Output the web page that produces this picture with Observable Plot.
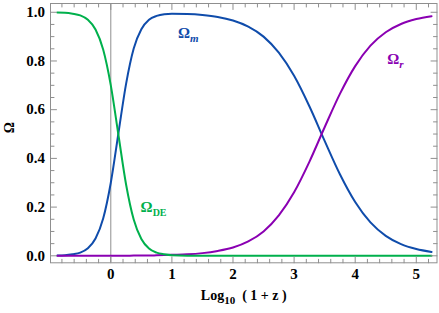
<!DOCTYPE html>
<html><head><meta charset="utf-8">
<script src="https://cdn.jsdelivr.net/npm/d3@7"></script>
<script src="https://cdn.jsdelivr.net/npm/@observablehq/plot@0.6"></script>
<style>body{margin:0;background:#fff} svg text{font-family:"Liberation Serif",serif;}</style>
</head><body><div id="chart"></div>
<script>
// log10(1+z) sample positions
const logZ = [-0.875,-0.75,-0.625,-0.5,-0.375,-0.25,-0.125,0,0.125,0.25,0.375,0.5,0.625,0.75,0.875,1,1.25,1.5,1.75,2,2.25,2.5,2.75,3,3.25,3.5,3.75,4,4.25,4.5,4.75,5,5.25];
const omegaM = [0.001,0.002,0.006,0.013,0.031,0.071,0.153,0.300,0.504,0.706,0.851,0.930,0.969,0.985,0.992,0.994,0.993,0.989,0.981,0.966,0.941,0.900,0.834,0.739,0.614,0.472,0.335,0.221,0.137,0.082,0.048,0.028,0.016];
const omegaR = [0,0,0,0,0,0,0,0,0,0,0.001,0.001,0.001,0.002,0.003,0.004,0.006,0.011,0.020,0.034,0.059,0.100,0.166,0.261,0.386,0.528,0.665,0.779,0.863,0.918,0.952,0.972,0.984];
const omegaDE = [0.999,0.998,0.994,0.987,0.969,0.929,0.847,0.700,0.496,0.293,0.149,0.069,0.030,0.013,0.006,0.002,0,0,0,0,0,0,0,0,0,0,0,0,0,0,0,0,0];
const xTicks = [0,1,2,3,4,5];
const yTicks = [0,0.2,0.4,0.6,0.8,1.0];
const seriesNames = ["m","r","DE"];

const colors = {m:"#0f4cab", r:"#8a00b2", DE:"#00b04c"};
const labelPos = {m:[1.27,0.913], r:[4.66,0.806], DE:[0.70,0.198]};
const gray = "#8f8f8f";
const font = "Liberation Serif";

const xMinor = d3.range(-0.8, 5.3, 0.2).map(v => Math.round(v*10)/10).filter(v => Math.abs(v - Math.round(v)) > 1e-6);
const yMinor = d3.range(0, 1.03, 0.05).map(v => Math.round(v*100)/100).filter(v => Math.abs(v*5 - Math.round(v*5)) > 1e-6);

const table = (vals) => logZ.map((x,i) => ({x, y: vals[i]}));
const tickShape = {draw(context, l) { context.moveTo(0,0); context.lineTo(0,-l); }};
const tk = (data, ch, anchor, len, rot) => Plot.vector(data, {[ch]: d => d, frameAnchor: anchor, length: len, rotate: rot, anchor: "start", shape: tickShape, stroke: gray, strokeWidth: 1});

const svg = Plot.plot({
  width: 439, height: 313,
  marginLeft: 50, marginRight: 2.5, marginTop: 3, marginBottom: 50.7,
  style: {fontFamily: font, fontWeight: "bold", fontSize: "14px", background: "#fff", color: "#000"},
  x: {domain: [-0.987, 5.339]},
  y: {domain: [-0.0287, 1.036]},
  marks: [
    Plot.ruleX([0], {stroke: gray, strokeWidth: 1}),
    Plot.line(table(omegaM), {x: "x", y: "y", stroke: colors.m, strokeWidth: 2, curve: "monotone-x"}),
    Plot.line(table(omegaR), {x: "x", y: "y", stroke: colors.r, strokeWidth: 2, curve: "monotone-x"}),
    Plot.line(table(omegaDE), {x: "x", y: "y", stroke: colors.DE, strokeWidth: 2, curve: "monotone-x"}),
    Plot.frame({stroke: gray, strokeWidth: 1}),
    tk(xTicks, "x", "bottom", 6, 0), tk(xMinor, "x", "bottom", 3.5, 0),
    tk(xTicks, "x", "top", 6, 180), tk(xMinor, "x", "top", 3.5, 180),
    tk(yTicks, "y", "left", 6, 90), tk(yMinor, "y", "left", 3.5, 90),
    tk(yTicks, "y", "right", 6, -90), tk(yMinor, "y", "right", 3.5, -90),
    Plot.axisX(xTicks, {tickSize: 0, tickPadding: 5.5, tickFormat: d3.format("d"), fontSize: 15, fontWeight: "bold", fontFamily: font, label: null}),
    Plot.axisY(yTicks, {tickSize: 0, tickPadding: 5.5, tickFormat: d3.format(".1f"), fontSize: 15, fontWeight: "bold", fontFamily: font, label: null}),
    ...seriesNames.map(k => Plot.text([k], {x: () => labelPos[k][0], y: () => labelPos[k][1], text: () => "Ω", fill: colors[k], fontSize: 15, fontWeight: "bold", fontFamily: font, className: "lab-" + k})),
    Plot.text([0], {frameAnchor: "bottom", dy: 37, text: () => "Log", fontSize: 14, fontWeight: "bold", fontFamily: font, className: "xlab"}),
    Plot.text([0], {frameAnchor: "left", dx: -40.5, rotate: -90, text: () => "Ω", fontSize: 14, fontWeight: "bold", fontFamily: font})
  ]
});

const s = d3.select(svg);
s.selectAll("g.lab-m text").append("tspan").attr("font-size", 11).attr("font-style", "italic").attr("dy", 4).text("m");
s.selectAll("g.lab-r text").append("tspan").attr("font-size", 11).attr("font-style", "italic").attr("dy", 4).text("r");
s.selectAll("g.lab-DE text").append("tspan").attr("font-size", 10).attr("dy", 4).text("DE");
s.selectAll("g.xlab text").each(function() {
  const t = d3.select(this);
  t.append("tspan").attr("font-size", 11).attr("dy", 4).text("10");
  t.append("tspan").attr("font-size", 14).attr("dy", -4).text("\u2002( 1 + z )");
});
document.getElementById("chart").appendChild(svg);
</script>
</body></html>
